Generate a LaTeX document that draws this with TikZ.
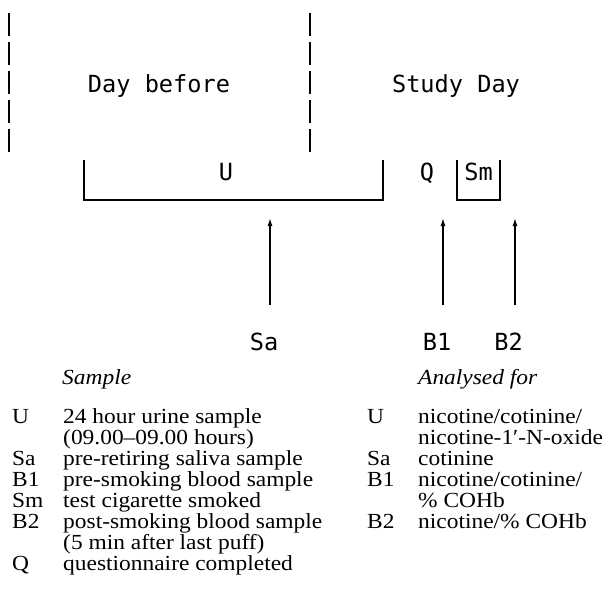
\documentclass[tikz,border=0pt]{standalone}
\usepackage{fontspec}
\setmainfont{Liberation Serif}
\newfontfamily\monof{DejaVu Sans Mono}
\usetikzlibrary{arrows.meta}
\newcommand\stretchtxt[1]{\scalebox{1.09}[1]{#1}}
\begin{document}
\begin{tikzpicture}[x=1pt,y=-1pt,
  mono/.style={font=\monof\fontsize{23.6}{26}\selectfont, inner sep=0pt, anchor=base},
  ser/.style={font=\fontsize{21.5}{21}\selectfont, inner sep=0pt, anchor=base west},
  head/.style={font=\fontsize{21.5}{21}\selectfont\itshape, inner sep=0pt, anchor=base west},
  divider/.style={line width=1.6pt, dash pattern=on 23pt off 6pt},
  bracket/.style={line width=1.4pt},
  samplearrow/.style={line width=1.4pt, -{Latex[length=8pt,width=5pt]}}]
\useasboundingbox (0,0) rectangle (609,608);
% dividers
\coordinate (d1t) at (9,13); \coordinate (d1b) at (9,152);
\coordinate (d2t) at (310,13); \coordinate (d2b) at (310,152);
\draw[divider] (d1t) -- (d1b);
\draw[divider] (d2t) -- (d2b);
\node[mono] (before) at (159,92) {Day before};
\node[mono] (study) at (456,92) {Study Day};
% U bracket
\coordinate (ua) at (84,160); \coordinate (ub) at (84,200);
\coordinate (uc) at (383,200); \coordinate (ud) at (383,160);
\draw[bracket] (ua) -- (ub) -- (uc) -- (ud);
\node[mono] (U) at (226,180) {U};
\node[mono] (Q) at (427,180) {Q};
% Sm bracket
\coordinate (sa) at (457,160); \coordinate (sb) at (457,200);
\coordinate (sc) at (500,200); \coordinate (sd) at (500,160);
\draw[bracket] (sa) -- (sb) -- (sc) -- (sd);
\node[mono] (Sm) at (478.5,180) {Sm};
% arrows
\node[mono] (Sa) at (264,350) {Sa};
\node[mono] (B1) at (437,350) {B1};
\node[mono] (B2) at (508.5,350) {B2};
\coordinate (saT) at (270,305); \coordinate (saH) at (270,218);
\coordinate (b1T) at (443,305); \coordinate (b1H) at (443,218);
\coordinate (b2T) at (515,305); \coordinate (b2H) at (515,218);
\draw[samplearrow] (saT) -- (saH);
\draw[samplearrow] (b1T) -- (b1H);
\draw[samplearrow] (b2T) -- (b2H);
% headings
\node[head] (hs) at (62,384) {\stretchtxt{Sample}};
\node[head] (ha) at (418,384) {\stretchtxt{Analysed for}};
% left legend
\node[ser] (l1a) at (12,423) {\stretchtxt{U}};
\node[ser] (l1b) at (63,423) {\stretchtxt{24 hour urine sample}};
\node[ser] (l2b) at (63,444) {\stretchtxt{(09.00–09.00 hours)}};
\node[ser] (l3a) at (12,465) {\stretchtxt{Sa}};
\node[ser] (l3b) at (63,465) {\stretchtxt{pre-retiring saliva sample}};
\node[ser] (l4a) at (12,486) {\stretchtxt{B1}};
\node[ser] (l4b) at (63,486) {\stretchtxt{pre-smoking blood sample}};
\node[ser] (l5a) at (12,507) {\stretchtxt{Sm}};
\node[ser] (l5b) at (63,507) {\stretchtxt{test cigarette smoked}};
\node[ser] (l6a) at (12,528) {\stretchtxt{B2}};
\node[ser] (l6b) at (63,528) {\stretchtxt{post-smoking blood sample}};
\node[ser] (l7b) at (63,549) {\stretchtxt{(5 min after last puff)}};
\node[ser] (l8a) at (12,570) {\stretchtxt{Q}};
\node[ser] (l8b) at (63,570) {\stretchtxt{questionnaire completed}};
% right legend
\node[ser] (r1a) at (367,423) {\stretchtxt{U}};
\node[ser] (r1b) at (418,423) {\stretchtxt{nicotine/cotinine/}};
\node[ser] (r2b) at (418,444) {\stretchtxt{nicotine-1′-N-oxide}};
\node[ser] (r3a) at (367,465) {\stretchtxt{Sa}};
\node[ser] (r3b) at (418,465) {\stretchtxt{cotinine}};
\node[ser] (r4a) at (367,486) {\stretchtxt{B1}};
\node[ser] (r4b) at (418,486) {\stretchtxt{nicotine/cotinine/}};
\node[ser] (r5b) at (418,507) {\stretchtxt{\% COHb}};
\node[ser] (r6a) at (367,528) {\stretchtxt{B2}};
\node[ser] (r6b) at (418,528) {\stretchtxt{nicotine/\% COHb}};
\end{tikzpicture}
\end{document}
